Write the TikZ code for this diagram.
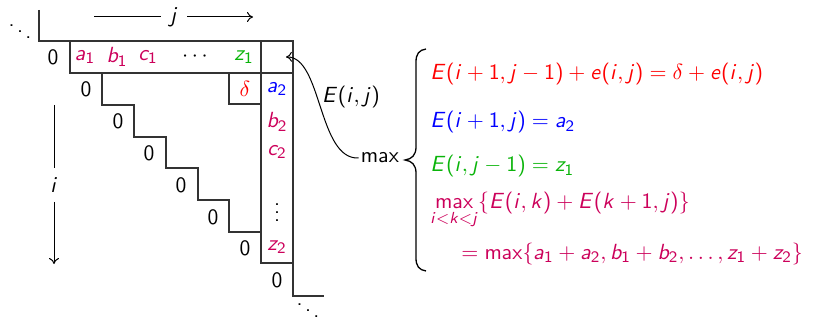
\documentclass[tikz,border=0pt]{standalone}
\DeclareSymbolFont{sfit}{OT1}{cmss}{m}{sl}
\DeclareSymbolFont{sfup}{OT1}{cmss}{m}{n}
\DeclareMathSymbol{a}{\mathalpha}{sfit}{`a}
\DeclareMathSymbol{b}{\mathalpha}{sfit}{`b}
\DeclareMathSymbol{c}{\mathalpha}{sfit}{`c}
\DeclareMathSymbol{e}{\mathalpha}{sfit}{`e}
\DeclareMathSymbol{i}{\mathalpha}{sfit}{`i}
\DeclareMathSymbol{j}{\mathalpha}{sfit}{`j}
\DeclareMathSymbol{k}{\mathalpha}{sfit}{`k}
\DeclareMathSymbol{z}{\mathalpha}{sfit}{`z}
\DeclareMathSymbol{E}{\mathalpha}{sfit}{`E}
\DeclareMathSymbol{0}{\mathalpha}{sfup}{`0}
\DeclareMathSymbol{1}{\mathalpha}{sfup}{`1}
\DeclareMathSymbol{2}{\mathalpha}{sfup}{`2}
\DeclareMathSymbol{(}{\mathopen}{sfup}{`(}
\DeclareMathSymbol{)}{\mathclose}{sfup}{`)}
\makeatletter
\renewcommand\operator@font{\mathgroup\symsfup}
\makeatother
\usetikzlibrary{arrows.meta}
\definecolor{cred}{RGB}{255,0,0}
\definecolor{cblue}{RGB}{0,0,255}
\definecolor{cgreen}{RGB}{10,180,10}
\definecolor{cpur}{RGB}{204,0,90}
\tikzset{
  every node/.style={font=\sffamily\fontsize{11}{13}\selectfont, inner sep=1pt},
  grid/.style={line width=0.6pt, draw=black!80},
  arr/.style={line width=0.5pt, -{To[length=3pt,width=5pt]}},
  ln/.style={line width=0.5pt},
  lbl/.style={anchor=base west},
  axlbl/.style={inner sep=4.5pt},
}
\begin{document}
\begin{tikzpicture}[x=0.5pt,y=-0.5pt]
\useasboundingbox (0,0) rectangle (813,320);
% corner lines
\draw[grid] (39,10) -- (39,41) -- (70,41);
\draw[grid] (70,41) rectangle (293,73);
\draw[grid] (261,41) -- (261,263) -- (293,263);
\draw[grid] (293,41) -- (293,296) -- (324,296);
\draw[grid] (229,73) -- (229,104) -- (261,104);
\draw[grid] (102,73) -- (102,105) -- (134,105) -- (134,137) -- (166,137) -- (166,168)
  -- (198,168) -- (198,200) -- (229,200) -- (229,232) -- (261,232);
% dots
\node (dtl) at (20,26) {$\ddots$};
\node (dbr) at (308,305) {$\ddots$};
% j arrow
\node[axlbl] (j) at (174,17) {$j$};
\coordinate (jl) at (94,17);
\coordinate (jr) at (253,17);
\draw[ln] (jl) -- (j.west);
\draw[arr] (j.east) -- (jr);
% i arrow
\node[axlbl] (i) at (54,185) {$i$};
\coordinate (it) at (54,105);
\coordinate (ib) at (54,264);
\draw[ln] (it) -- (i.north);
\draw[arr] (i.south) -- (ib);
% row
\node (r0) at (53,57) {0};
\node (ra) at (85,57) {$\color{cpur}a_1$};
\node (rb) at (117,57) {$\color{cpur}b_1$};
\node (rc) at (148,57) {$\color{cpur}c_1$};
\node (rd) at (195,57) {$\cdots$};
\node (rz) at (244,57) {$\color{cgreen}z_1$};
\coordinate (tip) at (286,57);
% column
\node (ca) at (277,89) {$\color{cblue}a_2$};
\node (cb) at (277,122) {$\color{cpur}b_2$};
\node (cc) at (277,152) {$\color{cpur}c_2$};
\node (cd) at (277,207) {$\vdots$};
\node (cz) at (277,247) {$\color{cpur}z_2$};
\node (dl) at (245,89) {$\color{cred}\delta$};
% zeros
\node (z1) at (86,89) {0};
\node (z2) at (118,121) {0};
\node (z3) at (149,153) {0};
\node (z4) at (181,185) {0};
\node (z5) at (213,217) {0};
\node (z6) at (245,248) {0};
\node (z7) at (277,280) {0};
% max and curve
\node (mx) at (380,158) {$\max$};
\node (eij) at (351,97) {$E(i,j)$};
\draw[arr] (mx.west) .. controls (318,160) and (322,56) .. (tip);
% brace
\draw[line width=0.65pt] (426,49) .. controls (419,50) and (416,54) .. (416,62) -- (416,147)
  .. controls (416,155) and (412,159) .. (405,160)
  .. controls (412,161) and (416,165) .. (416,173) -- (416,258)
  .. controls (416,266) and (419,270) .. (426,271);
% formulas
\node[lbl] (f1) at (428,80) {$\color{cred}E(i+1,j-1)+e(i,j)=\delta+e(i,j)$};
\node[lbl] (f2) at (428,128) {$\color{cblue}E(i+1,j)=a_2$};
\node[lbl] (f3) at (428,172) {$\color{cgreen}E(i,j-1)=z_1$};
\node[lbl] (f4) at (428,209) {$\color{cpur}\displaystyle\max_{i<k<j}\{E(i,k)+E(k+1,j)\}$};
\node[lbl] (f5) at (459,259) {$\color{cpur}=\max\{a_1+a_2,b_1+b_2,\ldots,z_1+z_2\}$};
\end{tikzpicture}
\end{document}
